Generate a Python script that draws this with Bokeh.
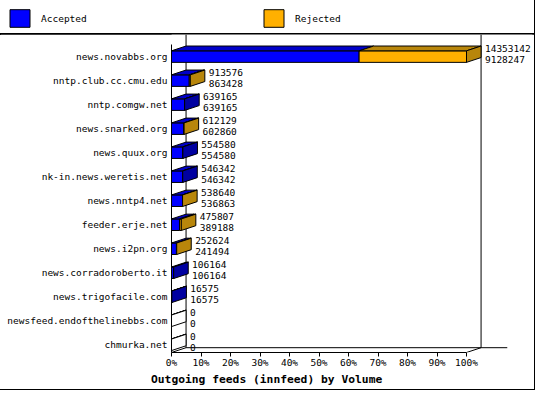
from bokeh.plotting import figure
from bokeh.models import (Range1d, FixedTicker, PrintfTickFormatter, Legend,
                          LegendItem, Title, ColumnDataSource)
from bokeh.core.properties import value
from bokeh.embed import file_html
from bokeh.resources import INLINE

hosts = ["news.novabbs.org", "nntp.club.cc.cmu.edu", "nntp.comgw.net",
         "news.snarked.org", "news.quux.org", "nk-in.news.weretis.net",
         "news.nntp4.net", "feeder.erje.net", "news.i2pn.org",
         "news.corradoroberto.it", "news.trigofacile.com",
         "newsfeed.endofthelinebbs.com", "chmurka.net"]
offered = [14353142, 913576, 639165, 612129, 554580, 546342, 538640,
           475807, 252624, 106164, 16575, 0, 0]
accepted = [9128247, 863428, 639165, 602860, 554580, 546342, 536863,
            389188, 241494, 106164, 16575, 0, 0]
pct_ticks = [0, 10, 20, 30, 40, 50, 60, 70, 80, 90, 100]

W, H = 534, 389
SX, SY = W / 550, H / 405      # original picture is 550x405

MONO = "DejaVu Sans Mono"
FS = "9.5px"
BLUE, BLUE_TOP, BLUE_SIDE = "#0000ff", "#0000c8", "#0000a0"
ORANGE, ORANGE_TOP, ORANGE_SIDE = "#ffb000", "#b8860b", "#b8860b"
BOX = {"outline": "1px solid black"}

# geometry measured on the original, in its pixels
left, right, top, bottom = 176, 548, 35, 366
px_pct = (480 - 176) / 100
row0, pitch = 58, 25

x_end = (right - left) / px_pct
y_top = (top - row0) / pitch
y_bot = (bottom - row0) / pitch
dx = 15 / px_pct          # 3d depth
dy = 5 / pitch
half = 6 / pitch          # half bar height
floor = y_bot - dy

LEG_H = round(top * SY)
mb_left = round(left * SX)
mb_right = W - round(right * SX)
mb_bottom = H - round(bottom * SY)

# ---- legend strip on top
lg = figure(width=W, height=LEG_H, output_backend="svg", toolbar_location=None,
            title_location=None, x_axis_type=None, y_axis_type=None,
            min_border=0, x_range=Range1d(0, 1), y_range=Range1d(0, 1),
            styles=BOX)
lg.xgrid.visible = False
lg.ygrid.visible = False
lg.outline_line_color = None
# off-range swatches, only there to give the legend its icons
lg_blue = lg.quad(left=[-2], right=[-1], top=[-1], bottom=[-2],
                  fill_color=BLUE, line_color="black")
lg_orange = lg.quad(left=[-2], right=[-1], top=[-1], bottom=[-2],
                    fill_color=ORANGE, line_color="black")
legend = Legend(items=[LegendItem(label="Accepted", renderers=[lg_blue]),
                       LegendItem(label="Rejected", renderers=[lg_orange])],
                orientation="horizontal", location=(7, 5),
                padding=0, spacing=0, glyph_width=25, glyph_height=22,
                label_standoff=9, label_width=220, label_height=18,
                label_text_font=MONO, label_text_font_size=FS,
                label_text_color="black", border_line_color=None,
                background_fill_alpha=0, margin=0)
lg.add_layout(legend)

# ---- main chart
p = figure(width=W, height=H - LEG_H, x_range=Range1d(0, x_end),
           y_range=Range1d(y_bot, y_top), output_backend="svg",
           toolbar_location=None, title_location=None,
           min_border_left=mb_left, min_border_right=mb_right,
           min_border_top=0, min_border_bottom=mb_bottom, styles=BOX)
p.outline_line_color = None
p.xgrid.visible = False
p.ygrid.visible = False

# back walls / floor
p.segment(x0=[dx, 100 + dx, dx, 100, 0], y0=[y_top, y_top, floor, y_bot, y_bot],
          x1=[dx, 100 + dx, (522 - left) / px_pct, 100 + dx, dx],
          y1=[floor, floor, floor, floor, floor], line_color="black", line_width=1)

biggest = max(offered)
rows = list(range(len(hosts)))
acc = [a / biggest * 100 for a in accepted]
tot = [o / biggest * 100 for o in offered]

src = ColumnDataSource(dict(
    row=rows, acc=acc, tot=tot, zero=[0] * len(rows),
    top=[r - half for r in rows], bot=[r + half for r in rows],
))

p.quad(left="zero", right="acc", top="top", bottom="bot", source=src,
       fill_color=BLUE, line_color="black")
p.quad(left="acc", right="tot", top="top", bottom="bot", source=src,
       fill_color=ORANGE, line_color="black")

def top_face(x0, x1, r):
    return ([x0, x1, x1 + dx, x0 + dx],
            [r - half, r - half, r - half - dy, r - half - dy])

bt = [top_face(0, a, r) for a, r in zip(acc, rows)]
ot = [top_face(a, t, r) for a, t, r in zip(acc, tot, rows)]
p.patches([b[0] for b in bt], [b[1] for b in bt], fill_color=BLUE_TOP, line_color="black")
p.patches([o[0] for o in ot], [o[1] for o in ot], fill_color=ORANGE_TOP, line_color="black")

side_x, side_y, side_c = [], [], []
for o, a, t, r in zip(offered, accepted, tot, rows):
    side_x.append([t, t + dx, t + dx, t])
    side_y.append([r - half, r - half - dy, r + half - dy, r + half])
    if o == 0:
        side_c.append("white")
    elif o > a:
        side_c.append(ORANGE_SIDE)
    else:
        side_c.append(BLUE_SIDE)
p.patches(side_x, side_y, fill_color=side_c, line_color="black")

# the two numbers beside each bar
tx = [t + dx + 4 / px_pct for t in tot]
p.text(tx, [r - 8.5 / pitch for r in rows], text=[str(o) for o in offered],
       text_font=value(MONO), text_font_size=FS, text_baseline="middle",
       text_color="black")
p.text(tx, [r + 3 / pitch for r in rows], text=[str(a) for a in accepted],
       text_font=value(MONO), text_font_size=FS, text_baseline="middle",
       text_color="black")

# axes
ya = p.yaxis[0]
ya.ticker = FixedTicker(ticks=rows)
ya.major_label_overrides = {r: h for r, h in zip(rows, hosts)}
ya.major_tick_out = 0
ya.major_tick_in = 0
ya.minor_tick_out = 0
ya.minor_tick_in = 0
ya.major_label_standoff = 4
ya.bounds = ((45 - row0) / pitch, y_bot)
ya.major_label_text_font = MONO
ya.major_label_text_font_size = FS
ya.major_label_text_color = "black"
ya.axis_line_color = "black"

xa = p.xaxis[0]
xa.ticker = FixedTicker(ticks=pct_ticks)
xa.formatter = PrintfTickFormatter(format="%d%%")
xa.bounds = (0, 100)
xa.major_tick_out = 4
xa.major_tick_in = 0
xa.minor_tick_out = 0
xa.minor_tick_in = 0
xa.major_label_standoff = 0
xa.major_label_text_font = MONO
xa.major_label_text_font_size = FS
xa.major_label_text_color = "black"
xa.axis_line_color = "black"
xa.major_tick_line_color = "black"

title = Title(text="Outgoing feeds (innfeed) by Volume", align="left",
              offset=155 * SX - mb_left, standoff=0,
              text_font=MONO, text_font_style="bold", text_font_size="11.3px",
              text_color="black")
p.add_layout(title, "below")

open("out.html", "w").write(file_html([lg, p], INLINE))
